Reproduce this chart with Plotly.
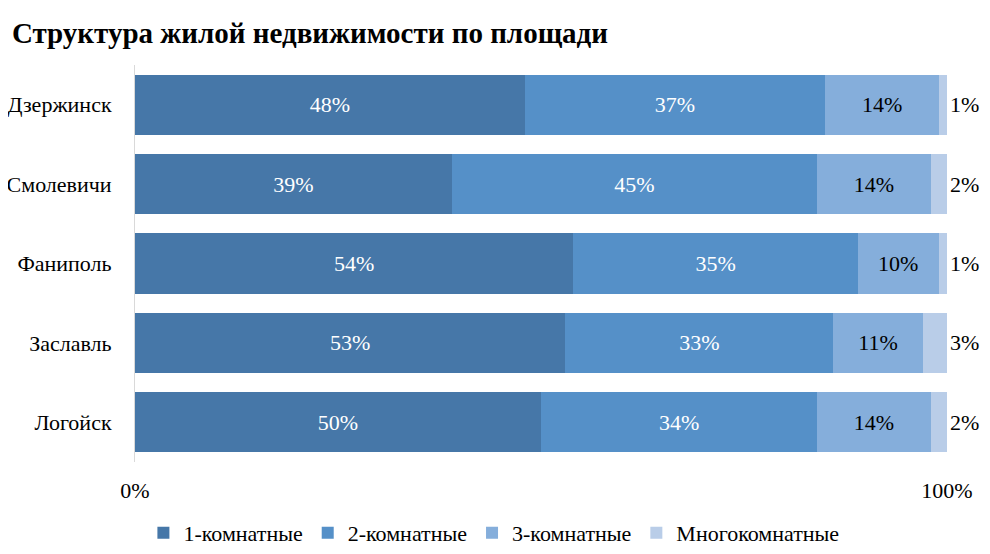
import plotly.graph_objects as go

# данные
goroda = ['Дзержинск', 'Смолевичи', 'Фаниполь', 'Заславль', 'Логойск']
serii = ['1-комнатные', '2-комнатные', '3-комнатные', 'Многокомнатные']
odnokomn = [48, 39, 54, 53, 50]
dvuhkomn = [37, 45, 35, 33, 34]
trehkomn = [14, 14, 10, 11, 14]
mnogokomn = [1, 2, 1, 3, 2]

shrift = 'Liberation Serif'
colores = ['#4677a8', '#5590c8', '#85aedb', '#b9cde8']
texto_color = ['white', 'white', 'black', 'black']

fig = go.Figure()
for nombre, vals, col, tcol in zip(serii, [odnokomn, dvuhkomn, trehkomn, mnogokomn],
                                   colores, texto_color):
    fig.add_trace(go.Bar(
        y=goroda, x=vals, name=nombre, orientation='h',
        marker=dict(color=col, line_width=0),
        text=[str(v) + '%' for v in vals],
        textposition='outside' if nombre == 'Многокомнатные' else 'inside',
        insidetextanchor='middle',
        textfont=dict(family=shrift, color=tcol, size=22),
        cliponaxis=False,
    ))

fig.update_layout(
    barmode='stack',
    bargap=0.24,
    width=990, height=554,
    margin=dict(l=127, r=51, t=57, b=100, autoexpand=False),
    plot_bgcolor='white', paper_bgcolor='white',
    font=dict(family=shrift, size=22, color='black'),
    title=dict(text='<b>Структура жилой недвижимости по площади</b>',
               x=0.004, xanchor='left', y=0.955, yanchor='middle',
               font=dict(family=shrift, size=29, color='black')),
    legend=dict(orientation='h', x=0.442, xanchor='center', y=-0.179, yanchor='middle',
                font=dict(family=shrift, size=22), traceorder='normal'),
    showlegend=True,
)
fig.update_xaxes(range=[0, 100], tickvals=[0, 100], ticktext=['0%', '100%'],
                 showgrid=False, zeroline=False, showline=False,
                 ticklabelstandoff=13)
fig.update_yaxes(autorange='reversed', showline=True, linecolor='#d9d9d9', linewidth=1,
                 showgrid=False, ticklabelstandoff=18)

fig.write_html("out.html")
